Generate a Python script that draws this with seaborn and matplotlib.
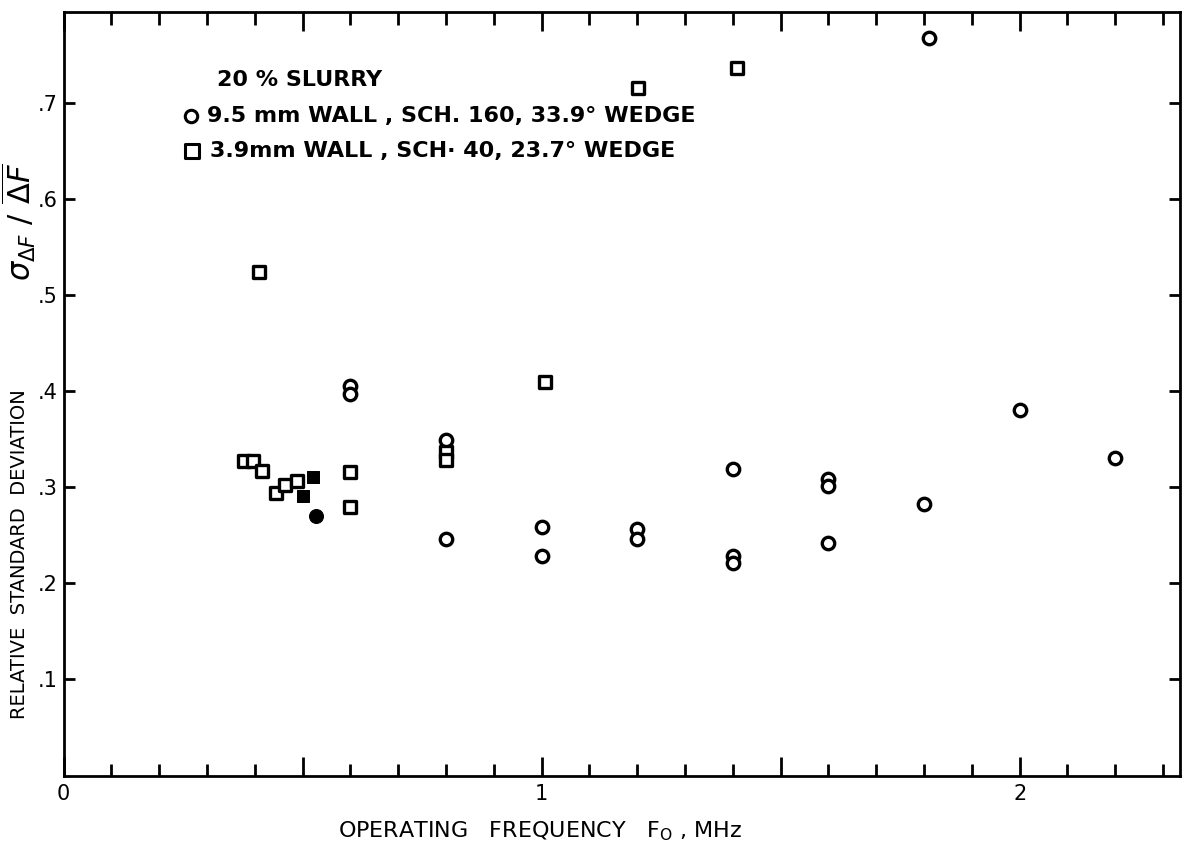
import seaborn as sns
import matplotlib
matplotlib.use("Agg")
import matplotlib.pyplot as plt
from matplotlib.ticker import MultipleLocator
import pandas as pd

sns.set_theme(style="ticks")
plt.rcParams['font.family'] = ['DejaVu Sans']
plt.rcParams['text.color'] = 'black'
plt.rcParams['axes.labelcolor'] = 'black'
plt.rcParams['xtick.color'] = 'black'
plt.rcParams['ytick.color'] = 'black'

# 9.5 mm wall, SCH. 160 (open circles)
circ_f = [0.60, 0.60, 0.80, 0.80, 1.00, 1.00, 1.20, 1.20, 1.40, 1.40, 1.40,
          1.60, 1.60, 1.60, 1.80, 1.81, 2.00, 2.20]
circ_r = [0.406, 0.397, 0.349, 0.246, 0.259, 0.229, 0.257, 0.246, 0.319, 0.229, 0.221,
          0.309, 0.301, 0.242, 0.283, 0.768, 0.381, 0.331]

# 3.9 mm wall, SCH. 40 (open squares)
sq_f = [0.378, 0.397, 0.416, 0.408, 0.445, 0.464, 0.489, 0.60, 0.60, 0.80, 0.80,
        1.007, 1.202, 1.409]
sq_r = [0.327, 0.327, 0.317, 0.524, 0.294, 0.302, 0.307, 0.316, 0.280, 0.337, 0.328,
        0.410, 0.716, 0.737]

# filled points
fsq_f = [0.522, 0.50]
fsq_r = [0.311, 0.291]
fci_f = [0.529]
fci_r = [0.270]

fig = plt.figure(figsize=(11.99, 8.43), dpi=100)
ax = fig.add_axes([0.053, 0.080, 0.931, 0.906])

circ = pd.DataFrame({"f": circ_f, "r": circ_r})
sq = pd.DataFrame({"f": sq_f, "r": sq_r})

sns.scatterplot(data=circ, x="f", y="r", marker="o", s=80, facecolor="white",
                edgecolor="black", linewidth=2.4, ax=ax, zorder=3)
sns.scatterplot(data=sq, x="f", y="r", marker="s", s=70, facecolor="white",
                edgecolor="black", linewidth=2.4, ax=ax, zorder=3)
sns.scatterplot(x=fsq_f, y=fsq_r, marker="s", s=80, color="black", edgecolor="black", ax=ax, zorder=3)
sns.scatterplot(x=fci_f, y=fci_r, marker="o", s=100, color="black", edgecolor="black", ax=ax, zorder=3)

ax.set_xlim(0, 2.335)
ax.set_ylim(0, 0.795)

ax.xaxis.set_minor_locator(MultipleLocator(0.1))
ax.set_xticks([0, 0.5, 1, 1.5, 2])
ax.set_xticklabels(["0", "", "1", "", "2"])
ax.set_yticks([0.1, 0.2, 0.3, 0.4, 0.5, 0.6, 0.7])
ax.set_yticklabels([".1", ".2", ".3", ".4", ".5", ".6", ".7"])

ax.tick_params(axis="both", which="both", direction="in", top=True, right=True,
               width=2, color="black", labelsize=15)
ax.tick_params(axis="x", which="major", length=14, pad=6)
ax.tick_params(axis="x", which="minor", length=9)
ax.tick_params(axis="y", which="major", length=8, pad=4)
for sp in ax.spines.values():
    sp.set_linewidth(2)
    sp.set_color("black")

ax.set_xlabel(r"OPERATING   FREQUENCY   F$_{\mathrm{O}}$ , MHz", fontsize=16)
ax.xaxis.set_label_coords(0.427, -0.058)
ax.set_ylabel("RELATIVE  STANDARD  DEVIATION", fontsize=14)
ax.yaxis.set_label_coords(-0.031, 0.29)
ax.text(-0.040, 0.725, r"$\sigma_{\Delta F}\ /\ \overline{\Delta F}$", fontsize=22,
        rotation=90, ha="center", va="center", transform=ax.transAxes)

# legend block written on the plot
ax.text(0.322, 0.724, "20 % SLURRY", fontsize=16, fontweight="bold", ha="left", va="center")
ax.text(0.300, 0.687, "9.5 mm WALL , SCH. 160, 33.9° WEDGE", fontsize=16, fontweight="bold",
        ha="left", va="center")
ax.text(0.306, 0.650, "3.9mm WALL , SCH· 40, 23.7° WEDGE", fontsize=16, fontweight="bold",
        ha="left", va="center")
ax.scatter([0.266], [0.687], marker="o", s=80, facecolor="white", edgecolor="black", linewidth=2.2)
ax.scatter([0.268], [0.650], marker="s", s=90, facecolor="white", edgecolor="black", linewidth=2.2)

fig.savefig("out.png", dpi=100)
